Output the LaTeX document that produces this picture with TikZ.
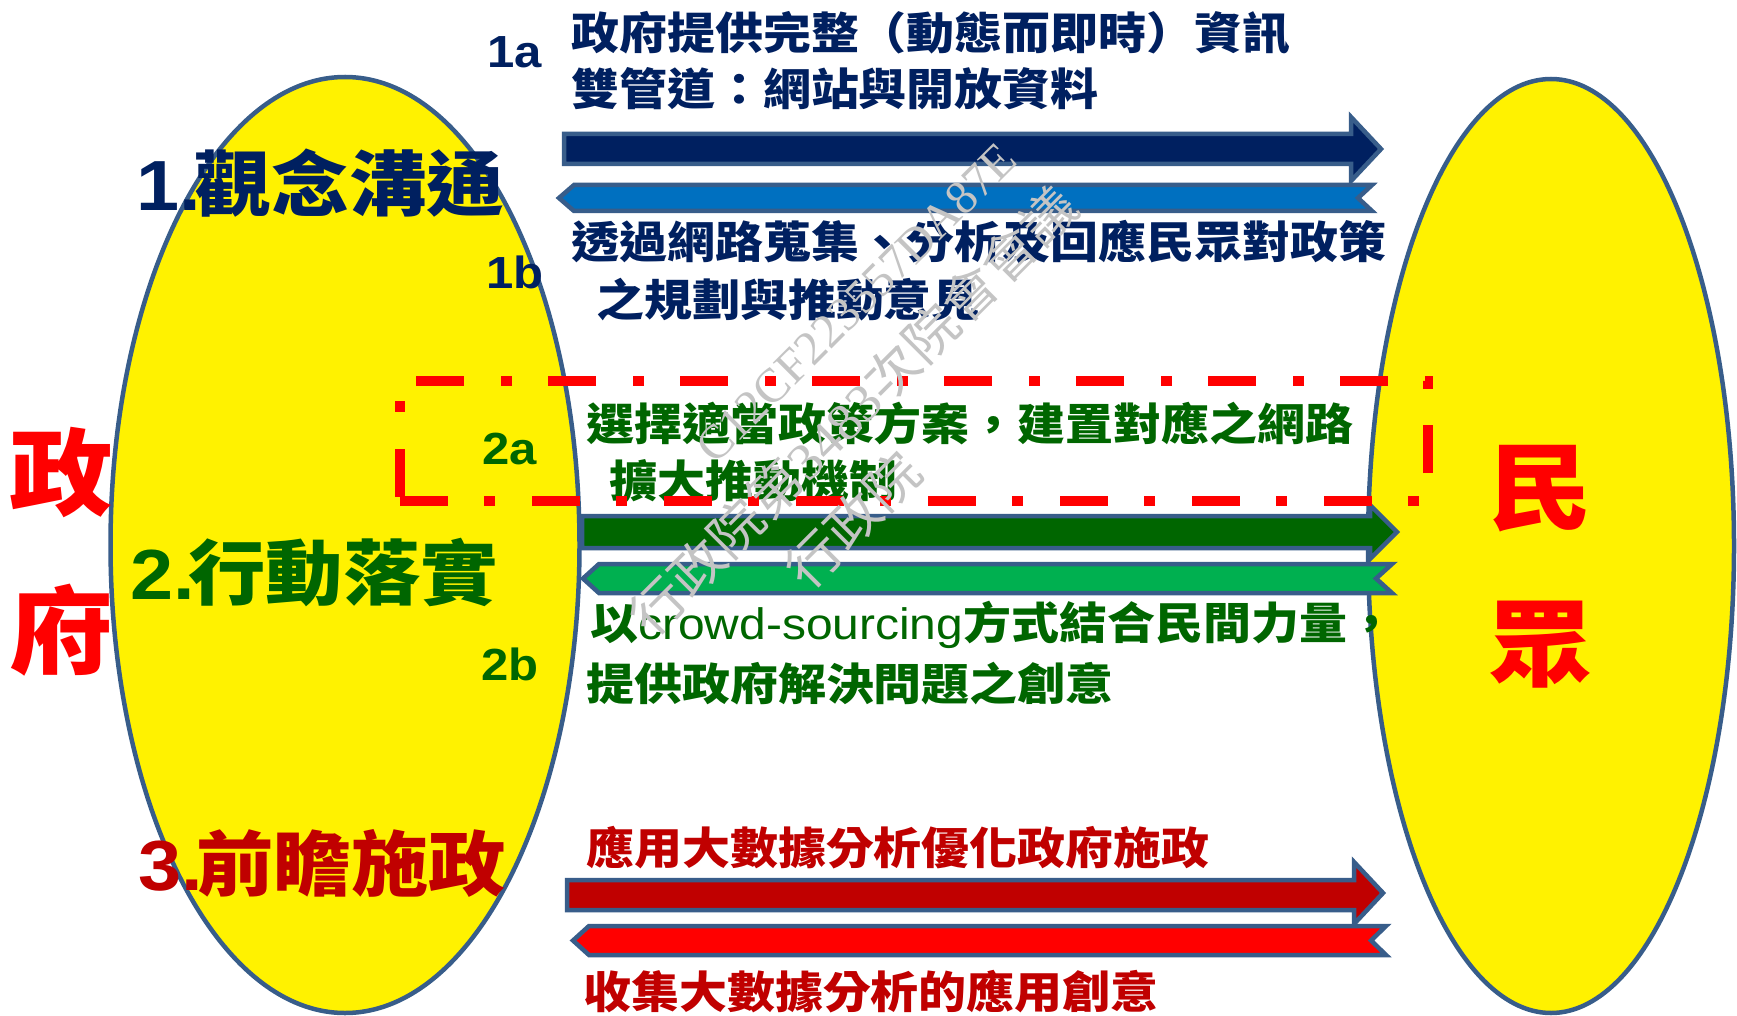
\documentclass[tikz,border=0pt]{standalone}
\usepackage{fontspec}
\usepackage{graphicx}
\setmainfont{Liberation Sans}
\newfontfamily\cjk{Noto Sans CJK TC}
\newfontfamily\wmserif{Liberation Serif}
\usetikzlibrary{shapes.geometric}
\definecolor{navy}{HTML}{002060}
\definecolor{dgreen}{HTML}{006600}
\definecolor{lgreen}{HTML}{00B050}
\definecolor{dred}{HTML}{C00000}
\definecolor{pred}{HTML}{FF0000}
\definecolor{mblue}{HTML}{0070C0}
\definecolor{olbl}{HTML}{385D8A}
\definecolor{wmgray}{HTML}{C4C4C4}
\newcommand{\hs}[1]{\scalebox{1.09}[1]{#1}}
\newcommand{\hw}[1]{\scalebox{1.06}[1]{#1}}
\begin{document}
\begin{tikzpicture}[x=1pt,y=-1pt]
\tikzset{
 ell/.style={ellipse, draw=olbl, line width=4.5pt, fill=yellow, inner sep=0pt},
 arr/.style={draw=olbl, line width=4.5pt, line join=miter},
 bodytxt/.style={anchor=west, inner sep=0pt, font=\cjk\bfseries\fontsize{44}{50}\selectfont},
 numlbl/.style={inner sep=0pt, font=\bfseries\fontsize{45}{50}\selectfont},
 biglbl/.style={anchor=west, inner sep=0pt, font=\cjk\bfseries\fontsize{71}{80}\selectfont},
 hugelbl/.style={inner sep=0pt, text=pred, font=\cjk\bfseries\fontsize{95}{100}\selectfont},
 wmtxt/.style={inner sep=0pt, rotate=45, text=wmgray, font=\cjk\fontsize{52}{56}\selectfont},
 dashbox/.style={draw=pred, line width=10pt, line cap=butt, dash pattern=on 48pt off 36pt on 11pt off 37pt}
}
\useasboundingbox (0,0) rectangle (1737,1016);
\fill[white] (0,0) rectangle (1737,1016);

% ellipses
\node[ell, minimum width=469pt, minimum height=936pt] (gov) at (345,545) {};
\node[ell, minimum width=366pt, minimum height=934pt] (ppl) at (1551,546) {};

% arrows 1
\draw[arr, fill=navy] (564,134) -- (1351,134) -- (1351,117) -- (1381,149) -- (1351,181) -- (1351,164) -- (564,164) -- cycle;
\draw[arr, fill=mblue] (559,198) -- (574,185) -- (1372,185) -- (1358,198) -- (1372,211) -- (574,211) -- cycle;
% arrows 2
\draw[arr, fill=dgreen] (582,516) -- (1370,516) -- (1370,505) -- (1397,532) -- (1370,559) -- (1370,548) -- (582,548) -- cycle;
\draw[arr, fill=lgreen] (583,578.5) -- (599,564) -- (1392,564) -- (1376,578.5) -- (1392,593) -- (599,593) -- cycle;
% arrows 3
\draw[arr, fill=dred] (567,880) -- (1354,880) -- (1354,862) -- (1383,893) -- (1354,924) -- (1354,910) -- (567,910) -- cycle;
\draw[arr, fill=pred] (573,940.5) -- (589,926) -- (1386,926) -- (1371,940.5) -- (1386,955) -- (589,955) -- cycle;

% side labels
\node[hugelbl] (zheng) at (61,472) {\hs{政}};
\node[hugelbl] (fu) at (61,630) {\hs{府}};
\node[hugelbl] (min) at (1540,489) {\hs{民}};
\node[hugelbl] (zhong) at (1540,645) {\hs{眾}};

% big labels
\node[biglbl, text=navy] (l1) at (136,183) {\hs{{\rmfamily 1.}\kern-0.08em 觀念溝通}};
\node[biglbl, text=dgreen] (l2) at (130,573) {\hs{{\rmfamily 2.}\kern-0.08em 行動落實}};
\node[biglbl, text=dred] (l3) at (138,863) {\hs{{\rmfamily 3.}\kern-0.08em 前瞻施政}};

% number labels
\node[numlbl, text=navy] (n1a) at (515,52) {\hs{1a}};
\node[numlbl, text=navy] (n1b) at (515,272) {\hs{1b}};
\node[numlbl, text=dgreen] (n2a) at (510,449) {\hs{2a}};
\node[numlbl, text=dgreen] (n2b) at (510,664) {\hs{2b}};

% texts
\node[bodytxt, text=navy] (t1a1) at (571,33) {\hs{政府提供完整（動態而即時）資訊}};
\node[bodytxt, text=navy] (t1a2) at (571,89) {\hs{雙管道：網站與開放資料}};
\node[bodytxt, text=navy] (t1b1) at (571,242) {\hs{透過網路蒐集、分析及回應民眾對政策}};
\node[bodytxt, text=navy] (t1b2) at (596,300) {\hs{之規劃與推動意見}};
\node[bodytxt, text=dgreen] (t2a1) at (586,424) {\hs{選擇適當政策方案，建置對應之網路}};
\node[bodytxt, text=dgreen] (t2a2) at (609,481) {\hs{擴大推動機制}};
\node[bodytxt, text=dgreen] (t2b1) at (590,625) {\hs{以{\rmfamily\mdseries crowd-sourcing}方式結合民間力量，}};
\node[bodytxt, text=dgreen] (t2b2) at (586,684) {\hs{提供政府解決問題之創意}};
\node[bodytxt, text=dred] (t3a) at (586,848) {\hs{應用大數據分析優化政府施政}};
\node[bodytxt, text=dred] (t3b) at (583,992) {\hs{收集大數據分析的應用創意}};

% dash-dot box
\draw[dashbox] (400,501) -- (1428,501) -- (1428,381) -- (400,381) -- cycle;

% watermark
\node[wmtxt, font=\wmserif\fontsize{48}{52}\selectfont] (wm1) at (856,303) {C12CF223557DA87E};
\node[wmtxt] (wm2) at (853,411) {\hw{行政院第{\wmserif 3483}次院會會議}};
\node[wmtxt] (wm3) at (853,520) {\hw{行政院}};
\end{tikzpicture}
\end{document}
